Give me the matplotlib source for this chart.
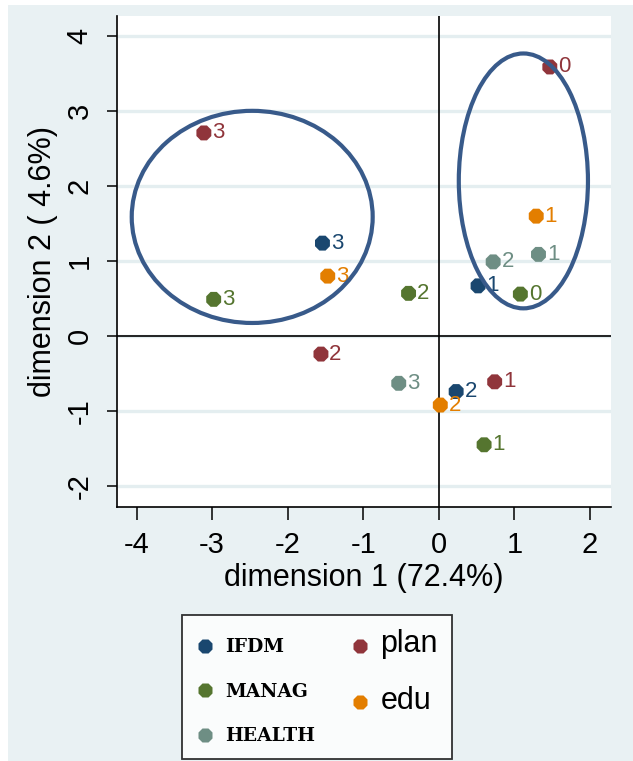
import matplotlib
matplotlib.use('Agg')
import matplotlib.pyplot as plt
from matplotlib.patches import Ellipse, Rectangle
from matplotlib.lines import Line2D

plt.rcParams['font.family'] = ['Liberation Sans', 'DejaVu Sans']
plt.rcParams['axes.unicode_minus'] = False

# category coordinates
ifdm_x = [0.52, 0.23, -1.54]
ifdm_y = [0.67, -0.74, 1.24]
ifdm_lab = ['1', '2', '3']

manag_x = [1.08, 0.60, -0.40, -2.98]
manag_y = [0.56, -1.45, 0.57, 0.49]
manag_lab = ['0', '1', '2', '3']

health_x = [1.32, 0.72, -0.53]
health_y = [1.09, 0.99, -0.63]
health_lab = ['1', '2', '3']

plan_x = [1.47, 0.74, -1.56, -3.11]
plan_y = [3.59, -0.61, -0.24, 2.71]
plan_lab = ['0', '1', '2', '3']

edu_x = [1.29, 0.02, -1.47]
edu_y = [1.60, -0.92, 0.80]
edu_lab = ['1', '2', '3']

x_ticks = [-4, -3, -2, -1, 0, 1, 2]
y_ticks = [-2, -1, 0, 1, 2, 3, 4]

# hand-drawn cluster rings: centre x, centre y, width, height
ring_cx = [-2.47, 1.12]
ring_cy = [1.59, 2.07]
ring_w = [3.19, 1.71]
ring_h = [2.83, 3.40]

series = [
    ('IFDM', ifdm_x, ifdm_y, ifdm_lab, '#1a476f'),
    ('MANAG', manag_x, manag_y, manag_lab, '#55752f'),
    ('HEALTH', health_x, health_y, health_lab, '#6e8e84'),
    ('plan', plan_x, plan_y, plan_lab, '#90353b'),
    ('edu', edu_x, edu_y, edu_lab, '#e37e00'),
]

fig = plt.figure(figsize=(6.33, 7.61), dpi=100)
fig.patch.set_facecolor('white')
fig.patches.append(Rectangle((8 / 633, 0), 1, 1 - 5 / 761, transform=fig.transFigure,
                             facecolor='#e9f1f3', edgecolor='none', zorder=-10))

ax = fig.add_axes([117 / 633, 1 - 507 / 761, 494 / 633, 491 / 761])
ax.set_facecolor('white')
ax.set_xlim(-4.26, 2.28)
ax.set_ylim(-2.28, 4.27)

for s in ['top', 'right']:
    ax.spines[s].set_visible(False)
for s in ['left', 'bottom']:
    ax.spines[s].set_linewidth(1.2)

ax.set_xticks(x_ticks)
ax.set_yticks(y_ticks)
ax.set_xticklabels([str(t) for t in x_ticks])
ax.set_yticklabels([str(t) for t in y_ticks], rotation=90, va='center')
ax.tick_params(axis='x', length=9, width=1.1, pad=8, labelsize=21)
ax.tick_params(axis='y', length=7, width=1.1, pad=10, labelsize=21)
ax.yaxis.grid(True, color='#e4eef0', linewidth=2.4)
ax.set_axisbelow(True)

ax.axhline(0, color='black', linewidth=1.2, zorder=1)
ax.axvline(0, color='black', linewidth=1.2, zorder=1)

for name, xs, ys, labs, col in series:
    ax.scatter(xs, ys, s=135, marker='8', color=col, edgecolors='none', zorder=3)
    for x, y, t in zip(xs, ys, labs):
        ax.annotate(t, (x, y), xytext=(6, 0), textcoords='offset points',
                    ha='left', va='center', fontsize=16, color=col, zorder=3)

for cx, cy, w, h in zip(ring_cx, ring_cy, ring_w, ring_h):
    ax.add_patch(Ellipse((cx, cy), w, h, fill=False, edgecolor='#385a8a',
                         linewidth=3, zorder=4))

ax.set_xlabel('dimension 1 (72.4%)', fontsize=22, labelpad=3)
ax.set_ylabel('dimension 2 ( 4.6%)', fontsize=22, labelpad=5)

handles = [Line2D([], [], linestyle='none', marker='8', markersize=11,
                  markerfacecolor=c, markeredgecolor='none') for _, _, _, _, c in series]
leg = fig.legend(handles, [s[0] for s in series], ncol=2, loc='upper center',
                 bbox_to_anchor=(0.501, 1 - 606 / 761), frameon=True,
                 fontsize=13, handletextpad=0.6, columnspacing=2.0,
                 labelspacing=1.45, borderpad=0.8, handlelength=1.0)
leg.get_frame().set_edgecolor('black')
leg.get_frame().set_linewidth(1.3)
leg.get_frame().set_boxstyle('square', pad=0)
for txt in leg.get_texts():
    if txt.get_text() in ('plan', 'edu'):
        txt.set_fontfamily('Liberation Sans')
        txt.set_fontsize(22)
    else:
        txt.set_fontfamily('DejaVu Serif')
        txt.set_fontweight('bold')
        txt.set_fontsize(13.5)

fig.savefig('out.png', dpi=100)
